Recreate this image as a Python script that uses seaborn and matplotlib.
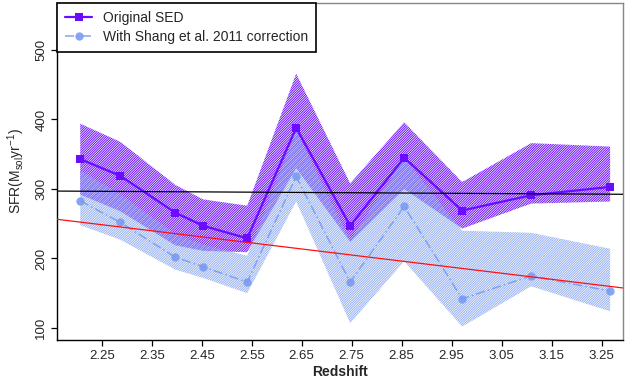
import matplotlib
matplotlib.use("Agg")
import matplotlib.pyplot as plt
import seaborn as sns
import pandas as pd

# Redshift bins and star-formation rates (M_sol / yr)
redshift = [2.207, 2.287, 2.397, 2.453, 2.541, 2.639, 2.747, 2.855, 2.971, 3.109, 3.267]
sfr_orig = [343, 319, 266, 247, 229, 388, 247, 345, 269, 291, 303]
orig_hi = [394, 368, 306, 285, 276, 466, 308, 396, 310, 366, 361]
orig_lo = [292, 268, 219, 211, 209, 330, 224, 300, 243, 279, 282]
sfr_shang = [283, 252, 202, 188, 166, 318, 166, 275, 142, 175, 153]
shang_hi = [327, 292, 235, 220, 204, 384, 226, 345, 240, 237, 214]
shang_lo = [248, 227, 184, 172, 150, 282, 107, 196, 102, 160, 124]

# Linear fits shown as reference lines (two points each)
fit_x = [2.1606, 3.2926]
fit_black = [297.0, 292.4]
fit_red = [256.4, 157.6]

x_ticks = [2.25, 2.35, 2.45, 2.55, 2.65, 2.75, 2.85, 2.95, 3.05, 3.15, 3.25]
y_ticks = [100, 200, 300, 400, 500]

sns.set_style("ticks")
plt.rcParams["font.family"] = ["Liberation Sans", "DejaVu Sans"]
plt.rcParams["mathtext.default"] = "regular"
plt.rcParams["hatch.linewidth"] = 0.7

purple = "#6A0DFF"
blue = "#7A9BEF"

df = pd.DataFrame({
    "z": redshift * 2,
    "sfr": sfr_orig + sfr_shang,
    "series": ["Original SED"] * len(redshift)
    + ["With Shang et al. 2011 correction"] * len(redshift),
})

fig = plt.figure(figsize=(6.35, 3.81), dpi=100)
ax = fig.add_axes([0.0898, 0.1076, 0.8912, 0.8845])

dense = "/" * 14
ax.fill_between(redshift, orig_lo, orig_hi, facecolor="none", edgecolor=purple,
                hatch=dense, linewidth=0, zorder=1)
ax.fill_between(redshift, shang_lo, shang_hi, facecolor="none", edgecolor=blue,
                hatch=dense, linewidth=0, alpha=0.8, zorder=1.5)

sns.lineplot(data=df[df.series == "Original SED"], x="z", y="sfr", ax=ax,
             color=purple, marker="s", markersize=6, markeredgewidth=0,
             linewidth=1.6, label="Original SED", zorder=3)
sns.lineplot(data=df[df.series != "Original SED"], x="z", y="sfr", ax=ax,
             color=blue, marker="o", markersize=6, markeredgewidth=0,
             linewidth=1.1, linestyle=(0, (6, 2, 1, 2)), alpha=0.9,
             label="With Shang et al. 2011 correction", zorder=2.5)

ax.axline((fit_x[0], fit_black[0]), (fit_x[1], fit_black[1]), color="black",
          linewidth=0.9, zorder=4)
ax.axline((fit_x[0], fit_red[0]), (fit_x[1], fit_red[1]), color="#FF1010",
          linewidth=0.9, zorder=4)

ax.set_xlim(2.1606, 3.2926)
ax.set_ylim(82.7, 567.6)
ax.set_xticks(x_ticks)
ax.set_xticklabels([f"{t:.2f}" for t in x_ticks])
ax.set_yticks(y_ticks)
ax.set_yticklabels([str(t) for t in y_ticks], rotation=90, va="center")
ax.tick_params(axis="both", labelsize=9.5, length=4, width=0.9, color="black",
               direction="out", pad=3)

ax.set_xlabel("Redshift", fontsize=10, fontweight="bold", labelpad=2)
ax.set_ylabel("SFR(M$_{sol}$yr$^{-1}$)", fontsize=10, labelpad=6)

for side in ["left", "bottom"]:
    ax.spines[side].set_color("black")
    ax.spines[side].set_linewidth(1.0)
for side in ["top", "right"]:
    ax.spines[side].set_visible(True)
    ax.spines[side].set_color("#888888")
    ax.spines[side].set_linewidth(1.0)

leg = ax.legend(loc="upper left", borderaxespad=0, fontsize=10, frameon=True,
                fancybox=False, handlelength=1.9, handletextpad=0.8,
                borderpad=0.6, labelspacing=0.3)
leg.get_frame().set_edgecolor("black")
leg.get_frame().set_linewidth(1.2)
leg.get_frame().set_alpha(1)

fig.savefig("out.png", dpi=100)
